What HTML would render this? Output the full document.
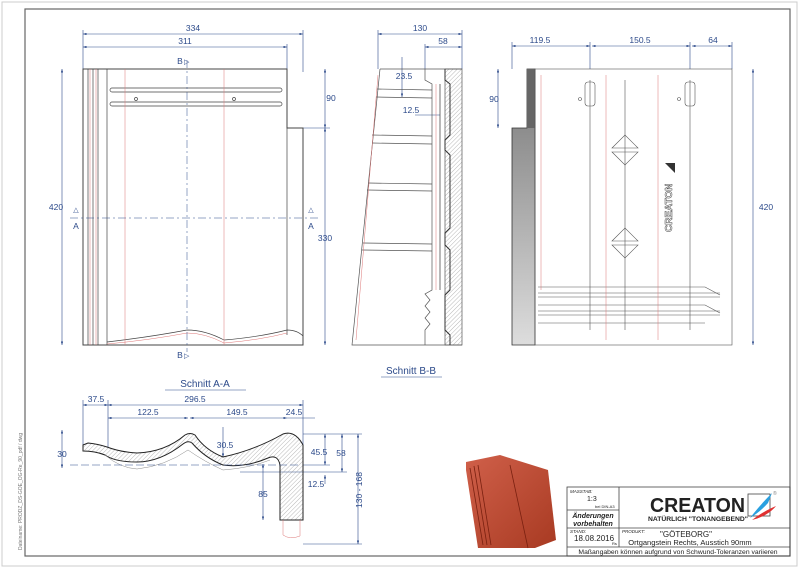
<!DOCTYPE html>
<html><head><meta charset="utf-8"><style>
html,body{margin:0;padding:0;background:#fff;}
svg{display:block;font-family:"Liberation Sans",Arial,sans-serif;}
</style></head><body>
<svg width="800" height="575" viewBox="0 0 800 575" xmlns="http://www.w3.org/2000/svg">
<defs>
<pattern id="h" width="3" height="3" patternUnits="userSpaceOnUse" patternTransform="rotate(45)"><line x1="0" y1="0" x2="0" y2="3" stroke="#888" stroke-width="0.6"/></pattern>
<linearGradient id="g" x1="0" x2="0" y1="0" y2="1"><stop offset="0" stop-color="#777"/><stop offset="1" stop-color="#ddd"/></linearGradient>
<linearGradient id="tile" x1="0" x2="1" y1="0" y2="1"><stop offset="0" stop-color="#d0604a"/><stop offset="1" stop-color="#a83a22"/></linearGradient>
<marker id="a" markerWidth="6" markerHeight="4" refX="6" refY="2" orient="auto-start-reverse"><path d="M0,0 L6,2 L0,4z" fill="#2c4a8a"/></marker>
</defs>
<rect x="2" y="2" width="795" height="564" fill="none" stroke="#ccc"/>
<rect x="25" y="9" width="765" height="547" fill="none" stroke="#666" stroke-width="1.2"/>
<text transform="translate(22,550) rotate(-90)" font-size="5" fill="#777">Dateiname: PRODZ_DS-GOE_OG-Re_90_pdf / dwg</text>

<g stroke="#2c4a8a" stroke-width="0.6" fill="none">
<line x1="83" y1="34" x2="303" y2="34" marker-start="url(#a)" marker-end="url(#a)"/>
<line x1="83" y1="47" x2="287" y2="47" marker-start="url(#a)" marker-end="url(#a)"/>
<line x1="83" y1="30" x2="83" y2="69"/><line x1="303" y1="30" x2="303" y2="72"/><line x1="287" y1="44" x2="287" y2="69"/>
<line x1="62" y1="69" x2="62" y2="345" marker-start="url(#a)" marker-end="url(#a)"/>
<line x1="325" y1="69" x2="325" y2="128" marker-start="url(#a)" marker-end="url(#a)"/>
<line x1="325" y1="128" x2="325" y2="345" marker-start="url(#a)" marker-end="url(#a)"/>
<line x1="303" y1="128" x2="330" y2="128"/>
<line x1="378" y1="34" x2="462" y2="34" marker-start="url(#a)" marker-end="url(#a)"/>
<line x1="425" y1="47" x2="462" y2="47" marker-start="url(#a)" marker-end="url(#a)"/>
<line x1="378" y1="30" x2="378" y2="69"/><line x1="462" y1="30" x2="462" y2="69"/><line x1="425" y1="44" x2="425" y2="69"/>
<line x1="402" y1="57" x2="402" y2="97" marker-end="url(#a)"/>
<line x1="415" y1="115" x2="440" y2="115"/>
<line x1="512" y1="46" x2="590" y2="46" marker-start="url(#a)" marker-end="url(#a)"/>
<line x1="592" y1="46" x2="690" y2="46" marker-start="url(#a)" marker-end="url(#a)"/>
<line x1="692" y1="46" x2="732" y2="46" marker-start="url(#a)" marker-end="url(#a)"/>
<line x1="512" y1="42" x2="512" y2="69"/><line x1="590" y1="42" x2="590" y2="69"/><line x1="690" y1="42" x2="690" y2="69"/><line x1="732" y1="42" x2="732" y2="69"/>
<line x1="753" y1="69" x2="753" y2="345" marker-start="url(#a)" marker-end="url(#a)"/>
<line x1="498" y1="69" x2="498" y2="128" marker-start="url(#a)" marker-end="url(#a)"/>
<line x1="83" y1="405" x2="108" y2="405" marker-start="url(#a)" marker-end="url(#a)"/>
<line x1="108" y1="405" x2="303" y2="405" marker-start="url(#a)" marker-end="url(#a)"/>
<line x1="108" y1="418" x2="188" y2="418" marker-start="url(#a)" marker-end="url(#a)"/>
<line x1="190" y1="418" x2="287" y2="418" marker-start="url(#a)" marker-end="url(#a)"/>
<line x1="287" y1="418" x2="315" y2="418"/>
<line x1="83" y1="400" x2="83" y2="445"/><line x1="303" y1="400" x2="303" y2="445"/><line x1="108" y1="400" x2="108" y2="447"/>
<line x1="62" y1="430" x2="62" y2="468" marker-start="url(#a)" marker-end="url(#a)"/>
<line x1="223" y1="427" x2="223" y2="457" marker-end="url(#a)"/>
<line x1="325" y1="434" x2="325" y2="465" marker-start="url(#a)" marker-end="url(#a)"/>
<line x1="342" y1="434" x2="342" y2="472" marker-start="url(#a)" marker-end="url(#a)"/>
<line x1="358" y1="434" x2="358" y2="544" marker-start="url(#a)" marker-end="url(#a)"/>
<line x1="263" y1="464" x2="263" y2="520" marker-start="url(#a)" marker-end="url(#a)"/>
<line x1="325" y1="475" x2="325" y2="484" marker-start="url(#a)"/>
<line x1="303" y1="434" x2="362" y2="434"/><line x1="303" y1="465" x2="330" y2="465"/><line x1="240" y1="472" x2="347" y2="472"/>
<line x1="303" y1="544" x2="362" y2="544"/>
</g>
<g fill="#2c4a8a" font-size="8.5" text-anchor="middle">
<text x="193" y="31">334</text><text x="185" y="44">311</text>
<text x="56" y="210">420</text><text x="331" y="101">90</text><text x="325" y="241">330</text>
<text x="76" y="212" font-size="7">△</text><text x="76" y="229">A</text><text x="311" y="212" font-size="7">△</text><text x="311" y="229">A</text>
<text x="180" y="64">B</text><text x="180" y="358">B</text>
<text x="184" y="64" font-size="7" text-anchor="start">▷</text><text x="184" y="358" font-size="7" text-anchor="start">▷</text>
<text x="420" y="31">130</text><text x="443" y="44">58</text><text x="404" y="79">23.5</text><text x="411" y="113">12.5</text>
<text x="540" y="43">119.5</text><text x="640" y="43">150.5</text><text x="713" y="43">64</text>
<text x="766" y="210">420</text><text x="494" y="102">90</text>
<text x="96" y="402">37.5</text><text x="195" y="402">296.5</text><text x="148" y="415">122.5</text><text x="237" y="415">149.5</text><text x="294" y="415">24.5</text>
<text x="62" y="457">30</text><text x="225" y="448">30.5</text><text x="319" y="455">45.5</text><text x="341" y="456">58</text>
<text x="316" y="487">12.5</text><text x="263" y="497">85</text>
<text transform="translate(362,490) rotate(-90)">130 - 168</text>
<text x="205" y="387" font-size="10">Schnitt A-A</text>
<text x="411" y="374" font-size="10">Schnitt B-B</text>
</g>
<line x1="165" y1="390" x2="246" y2="390" stroke="#2c4a8a" stroke-width="0.5"/>
<line x1="381" y1="377" x2="442" y2="377" stroke="#2c4a8a" stroke-width="0.5"/>

<g fill="none" stroke="#444" stroke-width="0.7">
<path d="M83,69 H287 V128 H303 V345 H83 Z" stroke-width="1"/>
<line x1="88" y1="69" x2="88" y2="345"/><line x1="93" y1="69" x2="93" y2="345"/><line x1="98" y1="69" x2="98" y2="345"/><line x1="107" y1="69" x2="107" y2="345"/>
<line x1="287" y1="128" x2="287" y2="335"/>
<rect x="110" y="88" width="172" height="4" rx="2"/><rect x="110" y="102" width="172" height="4" rx="2"/>
<circle cx="136" cy="99" r="1.5"/><circle cx="234" cy="99" r="1.5"/>
<path d="M107,342 Q150,337 187,330 Q205,330 224,340 Q260,337 287,330 Q297,330 303,336"/>
</g>
<g stroke="#d77" stroke-width="0.5" fill="none">
<line x1="90" y1="69" x2="90" y2="345"/><line x1="96" y1="69" x2="96" y2="345"/>
<line x1="125" y1="69" x2="125" y2="345"/><line x1="224" y1="69" x2="224" y2="345"/>
<path d="M107,344 Q150,340 187,333 Q205,333 224,343 Q260,340 287,333"/>
</g>
<g stroke="#2c4a8a" stroke-width="0.5" stroke-dasharray="8,3,2,3">
<line x1="187" y1="60" x2="187" y2="352"/><line x1="70" y1="218" x2="318" y2="218"/>
</g>

<g fill="none" stroke="#555" stroke-width="0.7">
<path d="M380,69 L352,345 H462"/>
<line x1="380" y1="69" x2="462" y2="69"/>
<rect x="445" y="69" width="17" height="276" fill="url(#h)"/>
<path d="M445,69 V80 L450,84 V135 L445,140 V150 L450,155 V228 L445,233 V245 L450,250 V290 L445,295 V330 L450,335 V345" stroke="#333" stroke-width="1"/>
<path d="M425,69 V80 L432,84 V290 L425,294 L430,300 L425,306 L430,312 L425,318 L430,324 L425,330 V345"/>
<line x1="440" y1="84" x2="440" y2="290" stroke="#333"/>
<line x1="377" y1="89" x2="432" y2="90"/><line x1="376" y1="97" x2="432" y2="98"/>
<line x1="372" y1="135" x2="432" y2="136"/><line x1="372" y1="143" x2="432" y2="144"/>
<line x1="368" y1="183" x2="432" y2="184"/><line x1="367" y1="190" x2="432" y2="191"/>
<line x1="363" y1="243" x2="432" y2="244"/><line x1="362" y1="250" x2="432" y2="251"/>
</g>
<g stroke="#d77" stroke-width="0.5" fill="none"><line x1="378" y1="75" x2="356" y2="340"/><line x1="436" y1="84" x2="436" y2="290"/></g>

<path d="M527,69 H535 V345 H512 V128 H527 Z" fill="url(#g)" stroke="#333" stroke-width="0.8"/>
<rect x="527" y="69" width="8" height="59" fill="#666"/>
<g fill="none" stroke="#555" stroke-width="0.6">
<rect x="535" y="69" width="197" height="276"/>
<line x1="590" y1="80" x2="590" y2="330"/><line x1="625" y1="80" x2="625" y2="330"/><line x1="690" y1="80" x2="690" y2="330"/>
<rect x="585" y="82" width="10" height="24" rx="3"/><rect x="685" y="82" width="10" height="24" rx="3"/>
<circle cx="580" cy="99" r="1.5"/><circle cx="679" cy="99" r="1.5"/>
<path d="M612,148 L625,135 L638,148 Z M612,152 L625,165 L638,152 Z"/>
<path d="M612,241 L625,228 L638,241 Z M612,245 L625,258 L638,245 Z"/>
<line x1="538" y1="293" x2="720" y2="293"/><line x1="538" y1="297" x2="720" y2="297"/>
<line x1="538" y1="311" x2="720" y2="311"/><line x1="538" y1="315" x2="720" y2="315"/>
<path d="M538,287 H705 L720,295 M538,305 H705 L720,313 M538,323 H705"/>
</g>
<g stroke="#d77" stroke-width="0.5" fill="none"><line x1="541" y1="75" x2="541" y2="290"/><line x1="606" y1="75" x2="606" y2="340"/><line x1="658" y1="75" x2="658" y2="340"/></g>
<text transform="translate(672,232) rotate(-90)" font-size="10" font-weight="bold" fill="none" stroke="#444" stroke-width="0.5">CREATON</text>
<path d="M665,163 h10 v10 z" fill="#333"/>

<!-- section A-A -->
<path d="M83,445 L88,443 Q98,444 107,447 Q120,452 137,453 Q165,452 185,435 Q190,432 195,435 Q205,450 223,457 Q255,450 283,434 Q295,430 303,445 L303,520 H280 V465 Q278,454 268,458 Q245,468 223,465 Q205,458 192,443 Q188,440 183,444 Q160,462 137,462 Q115,462 105,455 Q95,451 83,451 Z" fill="url(#h)" stroke="#222" stroke-width="1"/>
<g fill="none" stroke="#888" stroke-width="0.5">
<path d="M105,455 Q120,468 137,469 Q165,466 188,450 Q205,462 223,470 Q250,468 270,460"/>
<path d="M283,520 V535 Q290,540 300,536 V520" stroke="#d77"/>
</g>
<line x1="70" y1="465" x2="300" y2="465" stroke="#2c4a8a" stroke-width="0.5" stroke-dasharray="8,3"/>

<path d="M466,462 L500,455 L548,470 L556,540 L535,548 L478,548 L466,470 Z" fill="url(#tile)"/>
<g stroke="#7a2010" stroke-width="0.8" fill="none"><line x1="470" y1="468" x2="483" y2="545"/><line x1="474" y1="466" x2="487" y2="545"/><line x1="478" y1="465" x2="491" y2="545"/><line x1="510" y1="465" x2="528" y2="548"/></g>

<g fill="none" stroke="#444" stroke-width="0.8">
<rect x="567" y="487" width="223" height="69"/>
<line x1="619" y1="487" x2="619" y2="547"/>
<line x1="567" y1="510" x2="619" y2="510"/>
<line x1="567" y1="528" x2="790" y2="528"/>
<line x1="567" y1="547" x2="790" y2="547"/>
<rect x="748" y="494" width="22" height="22"/>
</g>
<g fill="#222">
<text x="570" y="493" font-size="4.5" font-style="italic">MASSTAB:</text>
<text x="587" y="501" font-size="7">1:3</text>
<text x="595" y="508" font-size="4">bei DIN-A3</text>
<text x="593" y="518" font-size="7" font-style="italic" font-weight="bold" text-anchor="middle">Änderungen</text>
<text x="593" y="526" font-size="7" font-style="italic" font-weight="bold" text-anchor="middle">vorbehalten</text>
<text x="570" y="533" font-size="4.5" font-style="italic">STAND:</text>
<text x="574" y="541" font-size="8">18.08.2016</text>
<text x="612" y="545" font-size="4">Rs</text>
<text x="622" y="533" font-size="4.5" font-style="italic">PRODUKT:</text>
<text x="686" y="537" font-size="8" text-anchor="middle">"GÖTEBORG"</text>
<text x="690" y="545" font-size="7.5" text-anchor="middle">Ortgangstein Rechts, Ausstich 90mm</text>
<text x="678" y="554" font-size="6.8" text-anchor="middle">Maßangaben können aufgrund von Schwund-Toleranzen variieren</text>
<text x="650" y="512" font-size="20" font-weight="bold" textLength="95" lengthAdjust="spacingAndGlyphs">CREATON</text>
<text x="648" y="521" font-size="6.5" font-weight="bold" textLength="100" lengthAdjust="spacingAndGlyphs">NATÜRLICH "TONANGEBEND"</text>
<text x="773" y="495" font-size="5" fill="#888">®</text>
</g>
<path d="M750,518 Q760,505 772,493 L768,503 Q760,512 750,518 Z" fill="#2aa0e0"/>
<path d="M752,520 Q762,512 776,506 Q768,516 752,520 Z" fill="#e03030"/>
</svg>
</body></html>
